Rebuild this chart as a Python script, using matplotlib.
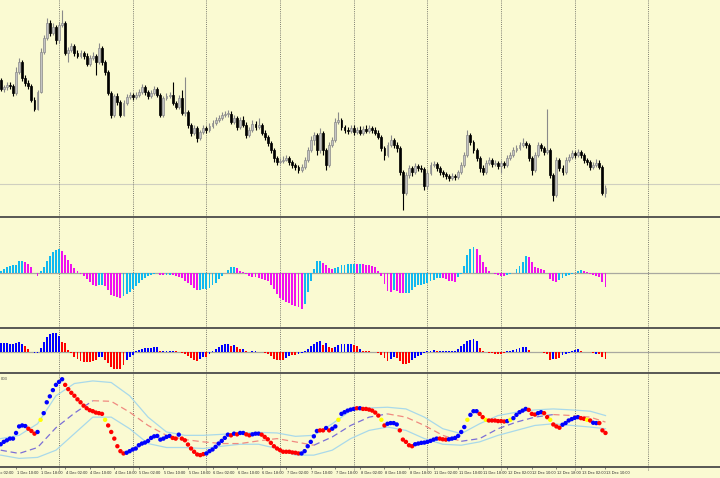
import numpy as np
import matplotlib.pyplot as plt
from matplotlib.lines import Line2D

# H1 bars, first visible bar = 1 Dec 05:00, last = 13 Dec 10:00
open_first = 1.1880
close = [1.1871, 1.1873, 1.1875, 1.1874, 1.1867, 1.1888, 1.1898, 1.1882, 1.1877, 1.1874,
         1.1860, 1.1851, 1.1868, 1.1908, 1.1922, 1.1937, 1.1927, 1.1933, 1.1920, 1.1935,
         1.1937, 1.1907, 1.1910, 1.1914, 1.1907, 1.1904, 1.1907, 1.1904, 1.1896, 1.1902,
         1.1904, 1.1898, 1.1912, 1.1898, 1.1888, 1.1867, 1.1845, 1.1864, 1.1858, 1.1845,
         1.1857, 1.1863, 1.1865, 1.1863, 1.1865, 1.1868, 1.1873, 1.1868, 1.1864, 1.1867,
         1.1871, 1.1865, 1.1845, 1.1862, 1.1864, 1.1865, 1.1857, 1.1853, 1.1862, 1.1847,
         1.1848, 1.1835, 1.1827, 1.1832, 1.1822, 1.1828, 1.1832, 1.1830, 1.1834, 1.1837,
         1.1840, 1.1842, 1.1845, 1.1846, 1.1846, 1.1838, 1.1842, 1.1833, 1.1840, 1.1835,
         1.1825, 1.1830, 1.1836, 1.1833, 1.1835, 1.1827, 1.1823, 1.1817, 1.1810, 1.1802,
         1.1798, 1.1799, 1.1800, 1.1802, 1.1798, 1.1795, 1.1793, 1.1790, 1.1793, 1.1800,
         1.1810, 1.1820, 1.1825, 1.1810, 1.1827, 1.1810, 1.1795, 1.1815, 1.1820, 1.1838,
         1.1840, 1.1833, 1.1830, 1.1829, 1.1832, 1.1828, 1.1830, 1.1827, 1.1831, 1.1829,
         1.1832, 1.1830, 1.1827, 1.1823, 1.1812, 1.1805, 1.1815, 1.1820, 1.1815, 1.1812,
         1.1788, 1.1767, 1.1785, 1.1792, 1.1788, 1.1794, 1.1792, 1.1791, 1.1774, 1.1787,
         1.1795, 1.1796, 1.1792, 1.1788, 1.1786, 1.1784, 1.1782, 1.1784, 1.1783, 1.1788,
         1.1795, 1.1805, 1.1825, 1.1818, 1.1810, 1.1802, 1.1792, 1.1788, 1.1797, 1.1800,
         1.1796, 1.1797, 1.1794, 1.1797, 1.1795, 1.1802, 1.1805, 1.1810, 1.1812, 1.1815,
         1.1817, 1.1815, 1.1802, 1.1790, 1.1805, 1.1815, 1.1812, 1.1808, 1.1810, 1.1785,
         1.1765, 1.1800, 1.1792, 1.1788, 1.1800, 1.1803, 1.1807, 1.1805, 1.1808, 1.1805,
         1.1800, 1.1798, 1.1793, 1.1795, 1.1797, 1.1793, 1.1767, 1.1772]
high = [1.1882, 1.1875, 1.1878, 1.1878, 1.1876, 1.1893, 1.1902, 1.1900, 1.1885, 1.1880,
        1.1876, 1.1863, 1.1870, 1.1912, 1.1925, 1.1942, 1.1940, 1.1937, 1.1935, 1.1938,
        1.1950, 1.1939, 1.1913, 1.1917, 1.1916, 1.1910, 1.1910, 1.1909, 1.1907, 1.1905,
        1.1908, 1.1906, 1.1917, 1.1914, 1.1900, 1.1890, 1.1869, 1.1866, 1.1867, 1.1860,
        1.1860, 1.1866, 1.1868, 1.1867, 1.1868, 1.1871, 1.1876, 1.1875, 1.1870, 1.1870,
        1.1874, 1.1873, 1.1867, 1.1864, 1.1867, 1.1868, 1.1878, 1.1859, 1.1865, 1.1870,
        1.1883, 1.1850, 1.1837, 1.1835, 1.1834, 1.1830, 1.1835, 1.1834, 1.1837, 1.1840,
        1.1843, 1.1845, 1.1848, 1.1849, 1.1850, 1.1849, 1.1845, 1.1844, 1.1843, 1.1844,
        1.1838, 1.1833, 1.1840, 1.1839, 1.1842, 1.1837, 1.1830, 1.1825, 1.1819, 1.1812,
        1.1804, 1.1802, 1.1804, 1.1805, 1.1804, 1.1800, 1.1797, 1.1795, 1.1796, 1.1803,
        1.1813, 1.1824, 1.1828, 1.1827, 1.1832, 1.1829, 1.1812, 1.1818, 1.1823, 1.1842,
        1.1848, 1.1842, 1.1835, 1.1833, 1.1835, 1.1835, 1.1833, 1.1834, 1.1834, 1.1835,
        1.1835, 1.1834, 1.1833, 1.1830, 1.1825, 1.1814, 1.1818, 1.1825, 1.1822, 1.1818,
        1.1814, 1.1790, 1.1788, 1.1795, 1.1794, 1.1797, 1.1796, 1.1795, 1.1793, 1.1790,
        1.1798, 1.1799, 1.1798, 1.1794, 1.1790, 1.1788, 1.1786, 1.1787, 1.1786, 1.1790,
        1.1798, 1.1808, 1.1830, 1.1827, 1.1820, 1.1812, 1.1804, 1.1795, 1.1800, 1.1803,
        1.1802, 1.1800, 1.1799, 1.1800, 1.1799, 1.1805, 1.1808, 1.1813, 1.1815, 1.1818,
        1.1822, 1.1819, 1.1817, 1.1804, 1.1808, 1.1818, 1.1817, 1.1814, 1.1851, 1.1812,
        1.1787, 1.1803, 1.1802, 1.1795, 1.1803, 1.1806, 1.1810, 1.1809, 1.1811, 1.1810,
        1.1807, 1.1802, 1.1800, 1.1798, 1.1801, 1.1800, 1.1795, 1.1775]
low = [1.1869, 1.1868, 1.1870, 1.1871, 1.1864, 1.1865, 1.1886, 1.1879, 1.1874, 1.1871,
       1.1858, 1.1849, 1.1850, 1.1867, 1.1906, 1.1920, 1.1924, 1.1925, 1.1916, 1.1917,
       1.1933, 1.1905, 1.1898, 1.1908, 1.1904, 1.1902, 1.1902, 1.1901, 1.1894, 1.1894,
       1.1900, 1.1885, 1.1896, 1.1895, 1.1885, 1.1865, 1.1842, 1.1843, 1.1855, 1.1843,
       1.1844, 1.1855, 1.1861, 1.1860, 1.1861, 1.1863, 1.1866, 1.1865, 1.1861, 1.1862,
       1.1865, 1.1863, 1.1843, 1.1843, 1.1860, 1.1862, 1.1855, 1.1851, 1.1851, 1.1845,
       1.1844, 1.1832, 1.1824, 1.1825, 1.1818, 1.1820, 1.1826, 1.1827, 1.1828, 1.1832,
       1.1835, 1.1838, 1.1840, 1.1843, 1.1843, 1.1836, 1.1836, 1.1830, 1.1831, 1.1833,
       1.1822, 1.1823, 1.1828, 1.1830, 1.1831, 1.1825, 1.1820, 1.1814, 1.1807, 1.1798,
       1.1795, 1.1796, 1.1797, 1.1799, 1.1795, 1.1792, 1.1790, 1.1787, 1.1788, 1.1791,
       1.1798, 1.1808, 1.1815, 1.1805, 1.1807, 1.1805, 1.1790, 1.1793, 1.1813, 1.1818,
       1.1836, 1.1830, 1.1827, 1.1826, 1.1827, 1.1825, 1.1826, 1.1825, 1.1825, 1.1827,
       1.1827, 1.1827, 1.1825, 1.1821, 1.1809, 1.1800, 1.1803, 1.1813, 1.1812, 1.1808,
       1.1785, 1.1750, 1.1765, 1.1782, 1.1784, 1.1786, 1.1789, 1.1788, 1.1770, 1.1771,
       1.1785, 1.1793, 1.1789, 1.1785, 1.1783, 1.1781, 1.1779, 1.1780, 1.1780, 1.1781,
       1.1786, 1.1793, 1.1803, 1.1815, 1.1807, 1.1799, 1.1788, 1.1785, 1.1786, 1.1795,
       1.1793, 1.1794, 1.1791, 1.1787, 1.1792, 1.1793, 1.1800, 1.1803, 1.1808, 1.1810,
       1.1813, 1.1812, 1.1799, 1.1785, 1.1788, 1.1803, 1.1809, 1.1805, 1.1806, 1.1782,
       1.1759, 1.1763, 1.1789, 1.1785, 1.1786, 1.1798, 1.1801, 1.1802, 1.1803, 1.1802,
       1.1797, 1.1795, 1.1790, 1.1791, 1.1793, 1.1791, 1.1765, 1.1763]
ask_level = 1.1776

# first sub-window: colour histogram (rising = cyan, falling = magenta)
osma = [2, 4, 6.5, 6.7, 7.7, 8.3, 11.7, 12.3, 11, 9,
        5.7, 0.5, -2.7, 2, 6, 11.7, 17, 20.7, 23, 24,
        22, 18, 13, 9, 5, 2, -1, -3.3, -6, -9,
        -11.5, -12.7, -12, -11.5, -13.3, -17, -21.5, -23, -24.3, -24.5,
        -23, -20.5, -18.5, -16, -13, -9.5, -7, -5, -3.3, -2,
        -1, -0.3, -1.7, -2.3, -1.7, -1.5, -1.7, -2.7, -4, -5,
        -7.7, -10, -12.3, -15, -16.7, -16.5, -16.3, -16, -14.7, -12.3,
        -10, -6, -3, 0.3, 3.3, 5.7, 6, 5, 2.5, 1,
        -1, -3, -3.7, -4, -4.7, -5.5, -6.5, -8.3, -12, -15.7,
        -21, -25, -27.3, -29, -30.3, -31.7, -32.7, -34, -36, -31,
        -19, -8, 4, 11.7, 12.3, 10, 8, 5.5, 4.5, 5,
        6.5, 7.7, 8.3, 9, 9.2, 9.3, 9, 9, 8.7, 8.3,
        8, 7, 5.7, 2.3, -3, -10.7, -18, -18.7, -17, -17.5,
        -20, -20.3, -20, -19.5, -17, -14, -12.3, -11.5, -10.7, -9.5,
        -7.7, -6.5, -5.3, -4.7, -5, -6.3, -7.7, -8, -8.7, -4,
        -1, 7, 18.3, 24, 26, 24.3, 18.3, 11, 5.7, 2,
        0.3, -1, -2, -3, -3.3, -2.3, -1, 0.5, 4, 7,
        11, 16.7, 16.5, 11, 6, 5, 4.3, 3, 0.3, -6,
        -8, -8.7, -7, -5.3, -3.3, -2, -0.7, 0.5, 2.3, 2.7,
        2, 0.7, -0.7, -2, -3, -4.3, -9, -14]

# second sub-window: blue / red histogram
hist2 = [9, 9, 9, 8, 8, 9, 10, 8.5, 6, 3,
         0.5, -1, -1, 4, 10, 15.5, 18.5, 20, 19.5, 17,
         10, 9, 2.5, -1, -4.5, -7, -9, -10, -10.5, -10,
         -9, -8, -5, -5, -8, -11.5, -15.5, -16.7, -16.7, -17.7,
         -13, -8, -5, -2.5, 1, 2.7, 3.5, 4, 4.7, 4.7,
         5, 5, 0.7, 1, 1.5, 1.3, 1, 0.7, 0.5, -0.5,
         -1.7, -4, -6.3, -8, -9, -7.3, -5, -4.5, -1.7, 1,
         3, 5.7, 7.3, 8, 8.3, 6.7, 7.5, 5.5, 3, 3.3,
         1, 0.3, 0.7, 0.7, 0.3, -0.3, -0.7, -2, -3.5, -6.7,
         -8.3, -8.3, -7.7, -5.7, -4.3, -3.3, -3, -2, -1, 1.7,
         3.5, 6, 8.3, 10, 11.3, 7.3, 9, 5, 4.5, 5.7,
         7.7, 8.3, 8.7, 8.7, 8.3, 7.7, 6.7, 3.3, 1.7, 0.7,
         0.7, 0, 0, -0.7, -2.7, -6, -8.7, -7.3, -5, -5.7,
         -9, -12.3, -11.7, -10.7, -8.3, -5.7, -4, -2.5, -1, 0.7,
         1.7, 2.3, 1.7, 1, 0.7, 0.7, 0.7, 1, 1.7, 3.3,
         6, 8.7, 11.5, 12.7, 13.3, 11.7, 4.5, 0.7, 0, -0.7,
         -1.3, -1.7, -1.7, -1.7, -1, 0.7, 1.7, 2.3, 3.3, 4.3,
         5.5, 5, 2.5, 0, 0.3, 0, -0.3, -0.7, -1.7, -8.3,
         -6.7, -6.7, -6, -3.3, -1.7, -0.7, 1.7, 2.7, 3.3, 1.7,
         0, 0, 0, -0.7, -2, -1.7, -5, -7.3]
hist2_col = ("bbbbbbbb" "rrr" "bbbbbbbbb" "rrrrrrrrrrrr" "bb" "rrrrrrr"
             "bbbbbbbbbbb" "r" "bbbb" "rrrrrrrr" "bb" "r" "bbbbbbb" "r" "b"
             "rr" "b" "rr" "bbb" "rrrrrrrr" "bb" "rr" "bbbbbbbb" "r" "b" "rr"
             "bbbbbb" "rr" "b" "rrrrrrrrr" "bb" "rrrrr" "bbbbbbbb" "r"
             "bbbbbbbbbbbbb" "rrrrrrrrr" "bbbbbbb" "rr" "bb" "rrrr" "b" "rr"
             "bbbbbb" "rrrrr" "b" "rrr")

# third sub-window: dots + bands + signal line
osc = [-24.7, -22.3, -20.7, -19, -19, -13.3, -6.7, -5.7, -6.3, -9,
       -11.3, -14, -12.3, 0, 6.7, 17.7, 23.7, 30, 35.3, 38.3,
       41, 35.3, 31, 27.3, 24.3, 20.7, 17.7, 14.3, 11.7, 9.7,
       8.7, 7.3, 6.7, 6, 0, -5.7, -12.3, -19, -26.7, -31.7,
       -34, -33.3, -31.7, -30, -29, -25.7, -24, -23, -21.3, -18.3,
       -16.7, -16.3, -20, -19, -17.3, -16.3, -18.3, -19, -15, -19,
       -20.7, -25, -29, -32.3, -35, -35.7, -34.7, -34, -31.7, -30,
       -27.3, -24, -21.3, -18.3, -15, -15.7, -14, -14.7, -13.3, -13.3,
       -14.7, -15.7, -14.7, -14, -14, -15, -17.3, -19.7, -23.3, -26.7,
       -29, -30.7, -32.3, -32.3, -32.3, -33, -33.3, -34, -34, -31.7,
       -26.7, -22.3, -16.7, -11.3, -10.7, -10.7, -8.3, -10.7, -9, -6.7,
       0, 6, 7.7, 9.3, 10.3, 11, 11.7, 11.7, 11, 11,
       10.3, 9.3, 7.3, 4.3, 0, -5.7, -4, -3.3, -3.3, -4.7,
       -10.7, -20, -22.3, -25.7, -26.7, -24.7, -24, -23.3, -23, -22.3,
       -21.3, -20, -19, -19, -19.7, -20, -19.7, -19, -18.3, -16.3,
       -12.3, -7.3, 0, 5, 8.7, 8.7, 6, 2.7, 0, -0.7,
       -0.7, -0.7, -1.3, -1.3, -1.7, -1.3, 0, 1.7, 5, 7.7,
       9.3, 11, 10, 6, 5.3, 6.7, 7.7, 6.7, 2.7, 0,
       -4.7, -6.7, -8, -5, -3.3, -0.7, 0.7, 2, 2.7, 1.7,
       1, 0, -0.7, -3, -3.3, -3.3, -10.7, -13.3]
osc_col = ("bbbbbbbbb" "rrr" "b" "y" "bbbbbbb" "rrrrrrrrrrrrr" "y" "rrrrrr"
           "bbbbbbbbbbbbbbb" "rr" "b" "rrrrrrrr" "bbbbbbbb" "r" "b" "r" "bb"
           "rr" "bbb" "rrrrrrrrrrrrr" "bbbbbb" "rr" "b" "r" "bb" "y" "bbbbb"
           "r" "b" "rrrrrr" "y" "r" "bbbb" "rrrrr" "bbbbbbbb" "rrr" "bbbbbb"
           "y" "bbb" "rr" "y" "rrrrrr" "b" "y" "bbbbb" "rrr" "bb" "rr" "y"
           "rrr" "bbbbbb" "rr" "y" "r" "bb" "rrr")
band_bars = list(range(0, 198, 6)) + [197]
band_up = [-19, -15.7, -4, 24.3, 36.7, 39.3, 37.7, 24.3, 2.7, -12.3,
           -15.7, -15.7, -14.7, -13.3, -12.7, -13.3, -16.7, -15.7, -4, 9.3,
           12, 12.7, 11, 2.7, -9, -14, -4, 4.3, 7.7, 10,
           11, 10, 8.7, 4.3]
band_dn = [-35.7, -39, -38, -30.7, -14, 2.7, 2.7, -9, -24, -28,
           -28, -29, -26.7, -24.7, -24.7, -29, -35.7, -35.7, -30.7, -19,
           -10.7, -7.3, -10.7, -19, -24.7, -25.7, -22.3, -15.7, -10.7, -5.7,
           -4, -5.7, -7.3, -9]
signal = [-30.7, -34, -28, -8, 6.7, 19.3, 18.7, 7.7, -5.7, -15.7,
          -20, -22.3, -24, -24, -21.3, -19, -22.3, -25.7, -17.3, -5.7,
          2.7, 6, 2.7, -5.7, -15.7, -21.7, -19, -9, -2.3, 2.7,
          5.3, 4.3, 2.7, -2.3]
signal_col = "ppppp" "rrrrrrrrrrrr" "pppp" "rrrr" "ppppp" "rrr"

days = ["1 Dec", "4 Dec", "5 Dec", "6 Dec", "7 Dec", "8 Dec", "11 Dec", "12 Dec", "13 Dec", "14 Dec"]
label_hours = [2, 10, 18]

n = len(close)
assert len(high) == n and len(low) == n and len(osma) == n and len(hist2) == n
assert len(hist2_col) == n and len(osc) == n and len(osc_col) == n
assert len(band_up) == len(band_bars) == len(band_dn) == len(signal) == len(signal_col) + 1


def bar_of(day, hour):
    # day 0 starts at 05:00 on screen, the others are full 24h days
    if day == 0:
        return hour - 5
    return 19 + (day - 1) * 24 + hour


BG = "#fafad2"
W, H = 720, 478
fig = plt.figure(figsize=(W / 100, H / 100), dpi=100, facecolor=BG)


def panel(top, bottom):
    ax = fig.add_axes([0, 1 - bottom / H, 1, (bottom - top) / H])
    ax.set_xlim(-0.23, 234.3)
    ax.set_axis_off()
    return ax


ax1 = panel(0, 217)
ax2 = panel(218, 328)
ax3 = panel(329, 373)
ax4 = panel(374, 467)
ax5 = panel(467, 478)

x = np.arange(n)
c = np.array(close)
o = np.array([open_first] + close[:-1])
hi = np.maximum(np.array(high), np.maximum(o, c))
lo = np.minimum(np.array(low), np.minimum(o, c))
up = c >= o
body = np.where(np.abs(c - o) < 0.00006, 0.00006, np.abs(c - o))
base = np.minimum(o, c)

ax1.axhline(ask_level, color="#cfcfc0", lw=0.8, zorder=1)
ax1.vlines(x[up], lo[up], hi[up], color="#8a8a8a", lw=0.8, zorder=2)
ax1.vlines(x[~up], lo[~up], hi[~up], color="black", lw=0.8, zorder=2)
ax1.bar(x[up], body[up], bottom=base[up], width=0.62, color="#c4c4c4",
        edgecolor="#8a8a8a", lw=0.5, zorder=3)
ax1.bar(x[~up], body[~up], bottom=base[~up], width=0.62, color="black",
        edgecolor="black", lw=0.5, zorder=3)
ax1.set_ylim(1.1743, 1.1960)

# colour histogram
osma_a = np.array(osma)
rising = np.diff(osma_a, prepend=osma_a[0] - 1) >= 0
ax2.bar(x, osma_a, width=0.62, color=np.where(rising, "#10b8f0", "#f010f0"), zorder=3)
ax2.axhline(0, color="#a8a8a0", lw=0.9, zorder=2)
ax2.set_ylim(-55, 55)

cmap = {"b": "#0000ff", "r": "#ff0000", "y": "#ffff00", "p": "#7b6fd6"}
ax3.bar(x, hist2, width=0.62, color=[cmap[k] for k in hist2_col], zorder=3)
ax3.axhline(0, color="#a8a8a0", lw=0.9, zorder=2)
ax3.set_ylim(-21.3, 23.7)

ax4.plot(band_bars, band_up, color="#a9d9ea", lw=0.9, zorder=2)
ax4.plot(band_bars, band_dn, color="#a9d9ea", lw=0.9, zorder=2)
sig_cols = {"p": "#7b6fd6", "r": "#f08a80"}
start = 0
for k in range(1, len(signal_col) + 1):
    if k == len(signal_col) or signal_col[k] != signal_col[start]:
        ax4.plot(band_bars[start:k + 1], signal[start:k + 1], color=sig_cols[signal_col[start]],
                 lw=0.9, ls=(0, (5, 3)), zorder=2)
        start = k
ax4.scatter(x, osc, s=10, c=[cmap[k] for k in osc_col], linewidths=0, zorder=4)
ax4.set_ylim(-47.7, 46.3)
ax4.text(0.001, 0.97, "003", transform=ax4.transAxes, fontsize=3,
         family="Liberation Sans", color="#404040", ha="left", va="top")

# period separators
for d in range(1, len(days)):
    for ax in (ax1, ax2, ax3, ax4):
        ax.axvline(bar_of(d, 0), color="#7c7c70", lw=0.7, ls=(0, (1, 1.2)), zorder=1)
    ax5.vlines(bar_of(d, 0), 0.75, 1, color="#7c7c70", lw=0.7, ls=(0, (1, 1.2)))

# time labels
ax5.set_ylim(0, 1)
for d, day in enumerate(days):
    for h in label_hours:
        b = bar_of(d, h)
        if b > n - 1:
            continue
        ax5.vlines(b, 0.8, 1, color="#505050", lw=0.5)
        ax5.text(b + 0.2, 0.42, f"{day} {h:02d}:00", fontsize=2.9, family="Liberation Sans",
                 color="#303030", ha="left", va="center", clip_on=True)

for ypx in (217, 328, 373, 467):
    fig.add_artist(Line2D([0, 1], [1 - ypx / H] * 2, transform=fig.transFigure,
                          color="#4a4a4a", lw=1.3))

fig.savefig("out.png", dpi=100, facecolor=BG)
